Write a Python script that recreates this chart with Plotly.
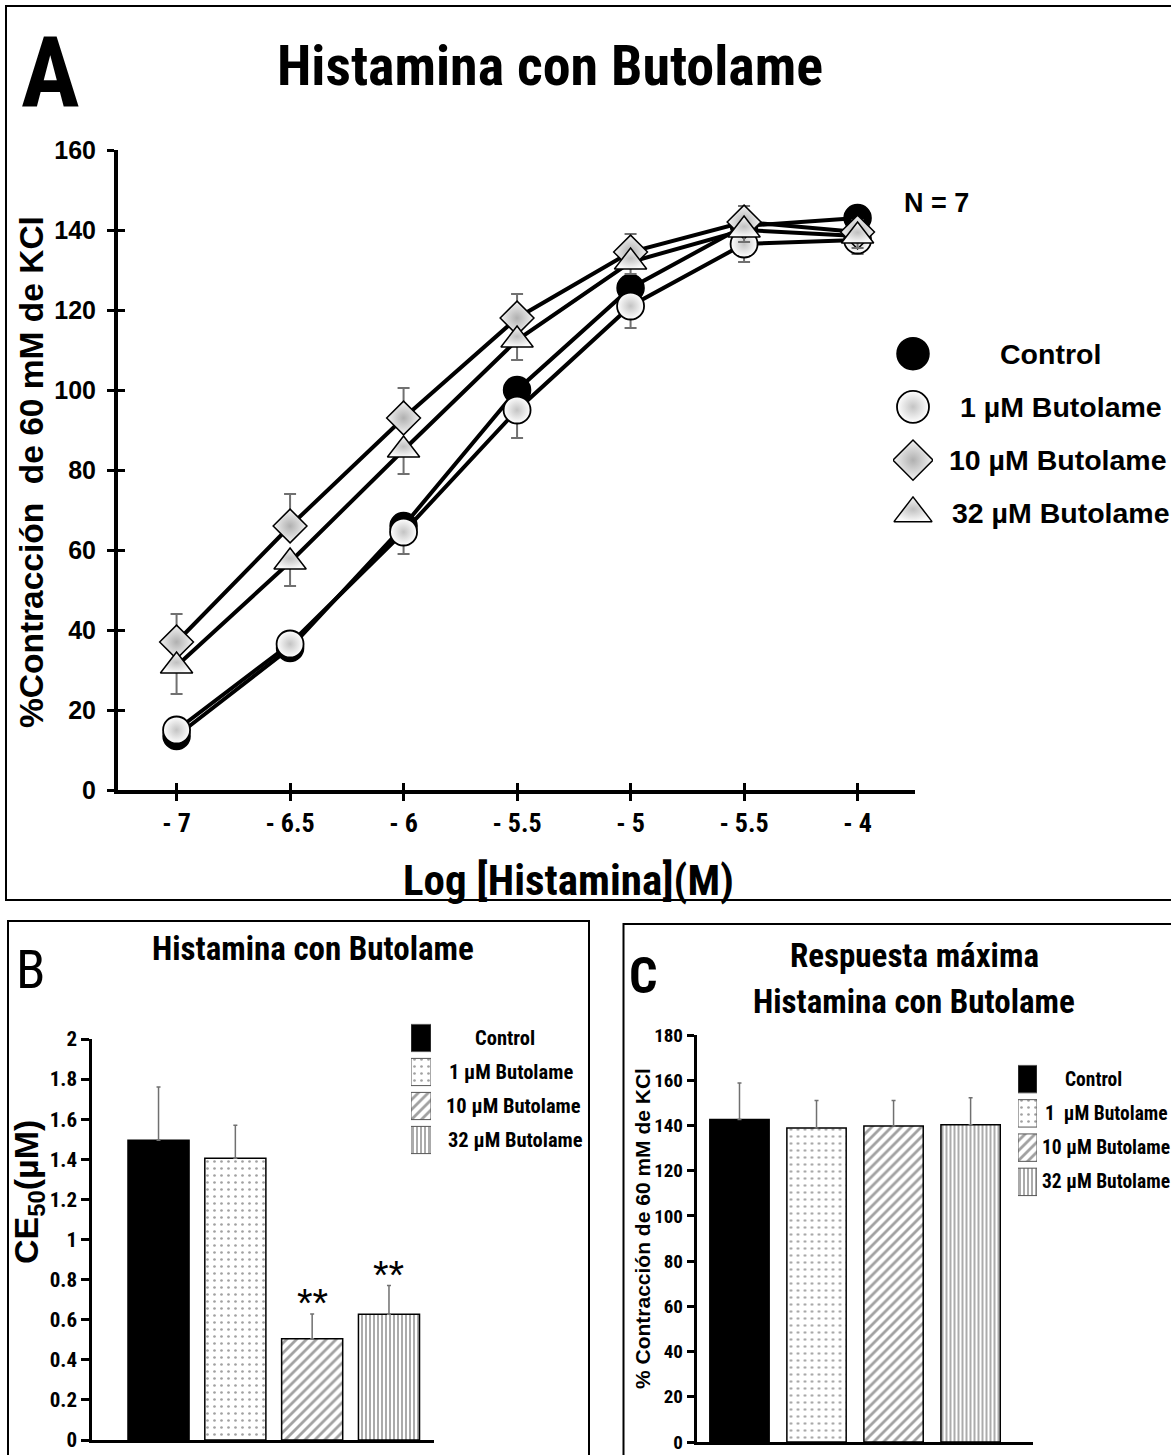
import plotly.graph_objects as go

W, H = 1171, 1455

# ---------------- data ----------------
log_conc = [-7, -6.5, -6, -5.5, -5, -4.5, -4]
x_tick_text = ["- 7", "- 6.5", "- 6", "- 5.5", "- 5", "- 5.5", "- 4"]
series_names = ["Control", "1 µM Butolame", "10 µM Butolame", "32 µM Butolame"]

control = [13.5, 35.5, 66, 100, 125.5, 141, 143]
but1 = [15, 36.5, 64.5, 95, 121, 136.5, 137.5]
but10 = [37, 66, 93, 118, 134.5, 142, 139.5]
but32 = [31, 57, 85, 112.5, 132, 140, 138.5]
but1_err = [2, 2, 5.5, 7, 5.5, 4.5, 3.5]
but10_err = [7, 8, 7.5, 6, 4.5, 4, 3]
but32_err = [7, 6, 6, 5, 3, 3, 3]

bar_names = ["Control", "1 µM Butolame", "10 µM Butolame", "32 µM Butolame"]
ce50 = [1.495, 1.405, 0.505, 0.627]
ce50_err = [0.265, 0.165, 0.123, 0.143]
ce50_sig = ["", "", "**", "**"]

max_resp = [142.6, 138.9, 139.8, 140.3]
max_resp_err = [16.2, 12.1, 11.2, 12.0]

legend_labels_c = ["Control", "1\u00a0\u00a0µM Butolame", "10 µM Butolame", "32 µM Butolame"]

# ---------------- styles ----------------
NARROW = "Roboto Condensed, Liberation Sans Narrow, Roboto, sans-serif"
ARIAL = "Liberation Sans, Arial, sans-serif"

def px(x):
    return x / W

def py(y):
    return 1 - y / H

marker_styles = [
    dict(symbol="circle", size=27, color="black", line=dict(color="black", width=1.5)),
    dict(symbol="circle", size=27, color="white", gradient=dict(type="radial", color="#c4c4c4"),
         line=dict(color="black", width=1.8)),
    dict(symbol="diamond", size=26, color="#f4f4f4", gradient=dict(type="radial", color="#b0b0b0"),
         line=dict(color="black", width=1.5)),
    dict(symbol="triangle-up", size=28, color="#fafafa", gradient=dict(type="radial", color="#c0c0c0"),
         line=dict(color="black", width=1.5)),
]

bar_colors = ["black", "white", "white", "white"]
bar_pattern = dict(
    shape=["", ".", "/", "|"],
    fgcolor=["black", "#8a8a8a", "black", "black"],
    bgcolor=["black", "white", "white", "white"],
    size=[8, 7, 7, 4],
    solidity=[0.3, 0.12, 0.4, 0.45],
    fillmode="overlay",
)

fig = go.Figure()

# ---------------- Panel A ----------------
series = [control, but1, but10, but32]
err_up = [None, None, but10_err, None]
err_dn = [None, but1_err, None, but32_err]

for ys in series:
    fig.add_trace(go.Scatter(x=log_conc, y=ys, mode="lines", line=dict(color="black", width=4),
                             xaxis="x", yaxis="y", showlegend=False, hoverinfo="skip"))

for i, ys in enumerate(series):
    ey = None
    if err_up[i] is not None:
        ey = dict(type="data", symmetric=False, array=err_up[i], arrayminus=[0] * len(ys),
                  color="#707070", thickness=2, width=6)
    elif err_dn[i] is not None:
        ey = dict(type="data", symmetric=False, array=[0] * len(ys), arrayminus=err_dn[i],
                  color="#707070", thickness=2, width=6)
    fig.add_trace(go.Scatter(x=log_conc, y=ys, mode="markers", marker=marker_styles[i],
                             error_y=ey, xaxis="x", yaxis="y", name=series_names[i],
                             showlegend=False))

# legend A symbols
for i, name in enumerate(series_names):
    ms = dict(marker_styles[i])
    ms["size"] = ms["size"] + 5
    fig.add_trace(go.Scatter(x=[0], y=[i], mode="markers", marker=ms, xaxis="x4", yaxis="y4",
                             showlegend=False, hoverinfo="skip"))

# ---------------- Panel B ----------------
fig.add_trace(go.Bar(x=[0, 1, 2, 3], y=ce50, width=0.795, xaxis="x2", yaxis="y2",
                     marker=dict(color=bar_colors, line=dict(color="black", width=1.5), pattern=bar_pattern),
                     error_y=dict(type="data", symmetric=False, array=ce50_err, arrayminus=[0] * 4,
                                  color="#707070", thickness=1.5, width=2),
                     showlegend=False, hoverinfo="skip"))
fig.add_trace(go.Bar(x=[0, 0, 0, 0], y=[0.8] * 4, base=[r - 0.4 for r in range(4)], width=1,
                     xaxis="x5", yaxis="y5",
                     marker=dict(color=bar_colors, line=dict(color="#555", width=1), pattern=bar_pattern),
                     showlegend=False, hoverinfo="skip"))

# ---------------- Panel C ----------------
fig.add_trace(go.Bar(x=[0, 1, 2, 3], y=max_resp, width=0.77, xaxis="x3", yaxis="y3",
                     marker=dict(color=bar_colors, line=dict(color="black", width=1.5), pattern=bar_pattern),
                     error_y=dict(type="data", symmetric=False, array=max_resp_err, arrayminus=[0] * 4,
                                  color="#707070", thickness=1.5, width=2),
                     showlegend=False, hoverinfo="skip"))
fig.add_trace(go.Bar(x=[0, 0, 0, 0], y=[0.8] * 4, base=[r - 0.4 for r in range(4)], width=1,
                     xaxis="x6", yaxis="y6",
                     marker=dict(color=bar_colors, line=dict(color="#555", width=1), pattern=bar_pattern),
                     showlegend=False, hoverinfo="skip"))

# helper traces for crossing ticks on panel A
fig.add_trace(go.Scatter(x=[-7], y=[0], xaxis="x7", yaxis="y", mode="markers",
                         marker=dict(opacity=0), showlegend=False, hoverinfo="skip"))
fig.add_trace(go.Scatter(x=[-7], y=[0], xaxis="x", yaxis="y7", mode="markers",
                         marker=dict(opacity=0), showlegend=False, hoverinfo="skip"))

hidden = dict(visible=False, showgrid=False, zeroline=False, fixedrange=True, automargin=False)
common = dict(showgrid=False, zeroline=False, automargin=False)

xrange_a = [-7.258, -3.747]
fig.update_layout(
    template="none",
    width=W, height=H, autosize=False,
    margin=dict(l=0, r=0, t=0, b=0, pad=0),
    paper_bgcolor="white", plot_bgcolor="white",
    barmode="overlay", showlegend=False,
    xaxis=dict(domain=[px(118), px(915)], range=xrange_a, tickvals=log_conc, ticktext=x_tick_text,
               ticks="outside", ticklen=7, tickwidth=3, tickcolor="black",
               showline=True, linewidth=4, linecolor="black",
               tickfont=dict(family=NARROW, size=26, color="black", weight="bold"), anchor="y", **common),
    yaxis=dict(domain=[py(790), py(150)], range=[0, 160], tickvals=list(range(0, 161, 20)),
               ticks="outside", ticklen=7, tickwidth=3, tickcolor="black", ticklabelstandoff=6,
               showline=True, linewidth=4, linecolor="black",
               tickfont=dict(family=ARIAL, size=25, color="black", weight="bold"), anchor="x", **common),
    xaxis7=dict(overlaying="x", anchor="y", range=xrange_a, tickvals=log_conc, ticks="inside",
                ticklen=7, tickwidth=3, tickcolor="black", showticklabels=False, showline=False, **common),
    yaxis7=dict(overlaying="y", anchor="x", range=[0, 160], tickvals=list(range(0, 161, 20)),
                ticks="inside", ticklen=7, tickwidth=3, tickcolor="black", showticklabels=False,
                showline=False, **common),
    xaxis2=dict(domain=[px(92), px(434)], range=[-0.866, 3.586], showticklabels=False, ticks="",
                showline=True, linewidth=3, linecolor="black", anchor="y2", **common),
    yaxis2=dict(domain=[py(1440), py(1039)], range=[0, 2], dtick=0.2, ticks="outside", ticklen=8,
                tickwidth=2.5, tickcolor="black", showline=True, linewidth=2.5, linecolor="black",
                anchor="x2", tickfont=dict(family=NARROW, size=21, color="black", weight="bold"), **common),
    xaxis3=dict(domain=[px(696.5), px(1033)], range=[-0.558, 3.81], showticklabels=False, ticks="",
                showline=True, linewidth=3, linecolor="black", anchor="y3", **common),
    yaxis3=dict(domain=[py(1442), py(1035)], range=[0, 180], dtick=20, ticks="outside", ticklen=7,
                tickwidth=2.5, tickcolor="black", showline=True, linewidth=2.5, linecolor="black",
                ticklabelstandoff=0,
                anchor="x3", tickfont=dict(family=NARROW, size=19, color="black", weight="bold"), **common),
    xaxis4=dict(domain=[px(893), px(933)], range=[-1, 1], anchor="y4", **hidden),
    yaxis4=dict(domain=[py(540), py(327)], range=[3.5, -0.5], anchor="x4", **hidden),
    xaxis5=dict(domain=[px(411), px(431)], range=[-0.5, 0.5], anchor="y5", **hidden),
    yaxis5=dict(domain=[py(1157), py(1021)], range=[3.5, -0.5], anchor="x5", **hidden),
    xaxis6=dict(domain=[px(1018), px(1037)], range=[-0.5, 0.5], anchor="y6", **hidden),
    yaxis6=dict(domain=[py(1199), py(1062)], range=[3.5, -0.5], anchor="x6", **hidden),
)

ann = []

def text(x, y, s, size, family, bold=True, xanchor="center", angle=0, xref="paper", yref="paper"):
    ann.append(dict(x=x, y=y, xref=xref, yref=yref, text=s, showarrow=False, xanchor=xanchor,
                    yanchor="middle", textangle=angle,
                    font=dict(family=family, size=size, color="black", weight="bold" if bold else "normal")))

# Panel A texts
text(px(50), py(72), "A", 98, NARROW)
text(px(550), py(66), "Histamina con Butolame", 56, NARROW)
text(px(568), py(880), "Log [Histamina](M)", 43, NARROW)
text(px(32), py(472), "%Contracción\u00a0\u00a0de 60 mM de KCl", 33.5, ARIAL, angle=-90)
text(px(936), py(203), "N = 7", 27, ARIAL)
legend_a_x = [1050, 958, 947, 950]
for i, name in enumerate(series_names):
    text(px(legend_a_x[i]), i, name, 28.5, ARIAL, xanchor="center" if i == 0 else "left", yref="y4")

# Panel B texts
text(px(30), py(969), "B", 54, NARROW, bold=False)
text(px(313), py(948), "Histamina con Butolame", 33, NARROW)
text(px(28), py(1192), "CE<sub>50</sub>(µM)", 34, ARIAL, angle=-90)
legend_b_x = [505, 447, 444, 446]
for i, name in enumerate(bar_names):
    text(px(legend_b_x[i]), i, name, 20.5, NARROW, xanchor="center" if i == 0 else "left", yref="y5")
for i, s in enumerate(ce50_sig):
    if s:
        ann.append(dict(x=i, y=ce50[i] + ce50_err[i], xref="x2", yref="y2", text=s, showarrow=False,
                        xanchor="center", yanchor="bottom", yshift=-13,
                        font=dict(family=ARIAL, size=40, color="black")))

# Panel C texts
text(px(644), py(976), "C", 50, NARROW)
text(px(914), py(955), "Respuesta máxima", 33, NARROW)
text(px(914), py(1001), "Histamina con Butolame", 33, NARROW)
text(px(642), py(1229), "% Contracción de 60 mM de KCl", 21, ARIAL, angle=-90)
legend_c_x = [1093, 1043, 1040, 1040]
for i, name in enumerate(legend_labels_c):
    text(px(legend_c_x[i]), i, name, 19.5, NARROW, xanchor="center" if i == 0 else "left", yref="y6")

fig.update_layout(annotations=ann)

# panel frames
frames = [(6, 6, 1180, 900), (8, 921, 589, 1470), (623.5, 924, 1180, 1470)]
fig.update_layout(shapes=[dict(type="rect", xref="paper", yref="paper", x0=px(a), x1=px(c), y0=py(b), y1=py(d),
                               line=dict(color="black", width=2), fillcolor="rgba(0,0,0,0)", layer="below")
                          for a, b, c, d in frames])

fig.write_html("out.html", config={"displayModeBar": False},
               post_script="document.body.style.margin='0px';document.body.style.padding='0px';"
                           "document.body.style.overflow='hidden';")
